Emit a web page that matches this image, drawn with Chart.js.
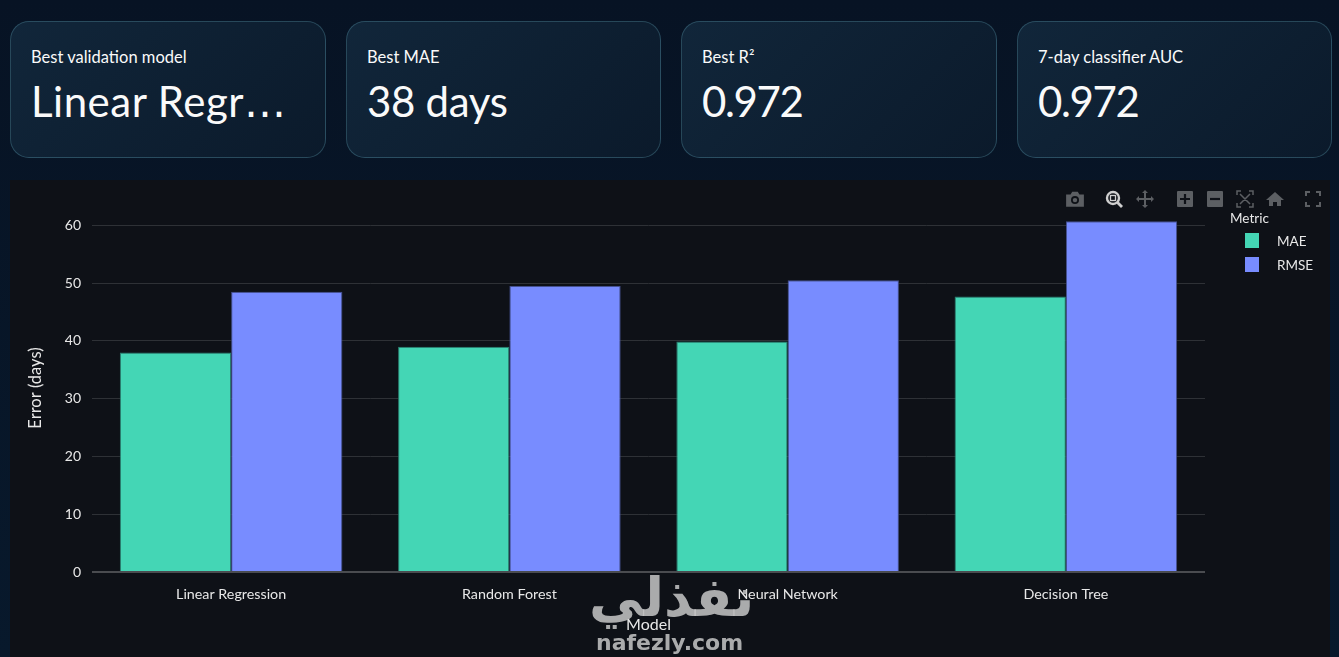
<!DOCTYPE html>
<html>
<head>
<meta charset="utf-8">
<script src="https://cdn.jsdelivr.net/npm/chart.js@4"></script>
<style>
  html, body { margin: 0; padding: 0; }
  body {
    width: 1339px; height: 657px; overflow: hidden; position: relative;
    background: linear-gradient(180deg, #071324 0%, #08192c 100%);
    font-family: Lato, sans-serif; color: #fafafa;
  }
  .card {
    position: absolute; top: 21px; height: 135px; box-sizing: content-box;
    border: 1px solid rgba(110, 185, 205, 0.28); border-radius: 19px;
    background: linear-gradient(135deg, #11263a 0%, #0b1a2b 100%);
  }
  .card .label { position: absolute; left: 20px; top: 24px; font-size: 16.5px; line-height: 22px; white-space: nowrap; }
  .card .value { position: absolute; left: 20px; top: 52px; font-size: 42px; line-height: 54px; white-space: nowrap; }
  .card .value span { font-family: "DejaVu Sans"; letter-spacing: 0; }
  #panel { position: absolute; left: 10px; top: 180px; width: 1320px; height: 477px; background: #0e1117; }
  #legend { position: absolute; left: 1230px; top: 209px; font-size: 13.5px; color: #e8e8e8; }
  #legend .title { position: absolute; left: 0; top: 0; line-height: 18px; }
  #legend .item { position: absolute; left: 15px; width: 90px; height: 16px; }
  #legend .swatch { position: absolute; left: 0; top: 0; width: 14px; height: 15px; }
  #legend .name { position: absolute; left: 32px; top: -1px; line-height: 18px; }
  .icon { position: absolute; top: 190px; width: 18px; height: 18px; }
  .mark { position: absolute; color: rgba(205, 205, 205, 0.82); white-space: nowrap; pointer-events: none; }
</style>
</head>
<body>
<div id="cards"></div>
<div id="panel"><canvas id="errorChart"></canvas></div>
<div id="legend"></div>

<svg class="icon" style="left:1065px;width:20px;height:20px;top:189px" viewBox="0 0 18 18"><path fill="#5c5f63" d="M1 5h4l1.500-2.500h5L13 5h4v11H1z"/><circle cx="9" cy="10" r="3.600" fill="#0e1117"/><circle cx="9" cy="10" r="2" fill="#5c5f63"/></svg>
<svg class="icon" style="left:1105px" viewBox="0 0 18 18"><circle cx="8" cy="8" r="6" fill="none" stroke="#cfcfcf" stroke-width="2.400"/><rect x="5.500" y="5.500" width="5" height="5" fill="none" stroke="#cfcfcf" stroke-width="1.300"/><path d="M12.500 12.500L17 17" stroke="#cfcfcf" stroke-width="2.800"/></svg>
<svg class="icon" style="left:1136px" viewBox="0 0 18 18"><path fill="#5c5f63" d="M9 0l3 3h-2v5h5V6l3 3-3 3v-2h-5v5h2l-3 3-3-3h2v-5H3v2L0 9l3-3v2h5V3H6z"/></svg>
<svg class="icon" style="left:1176px" viewBox="0 0 18 18"><rect x="1" y="1" width="16" height="16" rx="1" fill="#5c5f63"/><path d="M4 9h10M9 4v10" stroke="#0e1117" stroke-width="2.200"/></svg>
<svg class="icon" style="left:1206px" viewBox="0 0 18 18"><rect x="1" y="1" width="16" height="16" rx="1" fill="#5c5f63"/><path d="M4 9h10" stroke="#0e1117" stroke-width="2.200"/></svg>
<svg class="icon" style="left:1236px" viewBox="0 0 18 18"><path fill="none" stroke="#5c5f63" stroke-width="1.500" d="M1 5V1h4M13 1h4v4M17 13v4h-4M5 17H1v-4M4 4l10 10M14 4L4 14"/></svg>
<svg class="icon" style="left:1266px" viewBox="0 0 18 18"><path fill="#5c5f63" d="M9 2L0 10h3v6h4v-4h4v4h4v-6h3z"/></svg>
<svg class="icon" style="left:1304px" viewBox="0 0 18 18"><path fill="none" stroke="#5c5f63" stroke-width="2" d="M2 6V2h4M12 2h4v4M16 12v4h-4M6 16H2v-4"/></svg>

<div class="mark" style="left:589px;top:566px;font:bold 54px 'DejaVu Sans'">نفذلي</div>
<div class="mark" style="left:596px;top:630px;font:bold 22px 'DejaVu Sans'">nafezly.com</div>

<script>
const cardLabels = ['Best validation model', 'Best MAE', 'Best R²', '7-day classifier AUC'];
const cardValues = ['Linear Regr…', '38 days', '0.972', '0.972'];
const cardLefts = [10, 346, 681, 1017];
const cardWidths = [314, 313, 314, 313];
const valueSpacing = [0.5, -0.3, -1.4, -1.4];

const models = ['Linear Regression', 'Random Forest', 'Neural Network', 'Decision Tree'];
const mae = [38, 39, 39.9, 47.7];
const rmse = [48.5, 49.5, 50.5, 60.7];
const yTicks = [0, 10, 20, 30, 40, 50, 60];

const teal = '#44d6b5';
const blue = '#788cff';
const textColor = '#e8e8e8';
const fontFamily = 'Lato, sans-serif';

cardLabels.forEach((label, i) => {
  const card = document.createElement('div');
  card.className = 'card';
  card.style.left = cardLefts[i] + 'px';
  card.style.width = cardWidths[i] + 'px';
  const value = cardValues[i].replace('…', '<span>…</span>');
  card.innerHTML = '<div class="label">' + label + '</div><div class="value" style="letter-spacing:' + valueSpacing[i] + 'px">' + value + '</div>';
  document.getElementById('cards').appendChild(card);
});

const chart = new Chart(document.getElementById('errorChart'), {
  type: 'bar',
  data: {
    labels: models,
    datasets: [
      { label: 'MAE', data: mae, backgroundColor: teal, borderColor: '#2a7f70', borderWidth: 1 },
      { label: 'RMSE', data: rmse, backgroundColor: blue, borderColor: '#45518f', borderWidth: 1 }
    ]
  },
  options: {
    responsive: true,
    maintainAspectRatio: false,
    animation: false,
    datasets: { bar: { barPercentage: 1, categoryPercentage: 0.8 } },
    layout: { padding: { top: 24, right: 125, left: 0, bottom: 0 } },
    plugins: { legend: { display: false }, tooltip: { enabled: false } },
    scales: {
      x: {
        grid: { display: false },
        border: { display: false },
        ticks: { color: textColor, font: { family: fontFamily, size: 14.3 }, padding: 6, maxRotation: 0 },
        title: { display: true, text: 'Model', color: textColor, font: { family: fontFamily, size: 16 }, padding: { top: 0, bottom: 23 } },
        afterFit: scale => { scale.height = 85; }
      },
      y: {
        min: 0,
        max: 63.7,
        afterBuildTicks: scale => { scale.ticks = yTicks.map(value => ({ value })); },
        grid: {
          drawTicks: false,
          color: ctx => ctx.tick.value === 0 ? '#4a4c50' : '#2e3136',
          lineWidth: ctx => ctx.tick.value === 0 ? 2 : 1
        },
        border: { display: false },
        ticks: { color: textColor, font: { family: fontFamily, size: 14 }, padding: 11 },
        title: { display: true, text: 'Error (days)', color: textColor, font: { family: fontFamily, size: 16.5 }, padding: { top: 16, bottom: 0 } },
        afterFit: scale => { scale.width = 82; }
      }
    }
  }
});

// plotly style legend, indented under its title
const legend = document.getElementById('legend');
legend.innerHTML = '<div class="title">Metric</div>';
chart.data.datasets.forEach((ds, i) => {
  const item = document.createElement('div');
  item.className = 'item';
  item.style.top = (24 + i * 24) + 'px';
  item.innerHTML = '<div class="swatch" style="background:' + ds.backgroundColor + '"></div><div class="name">' + ds.label + '</div>';
  legend.appendChild(item);
});
</script>
</body>
</html>
